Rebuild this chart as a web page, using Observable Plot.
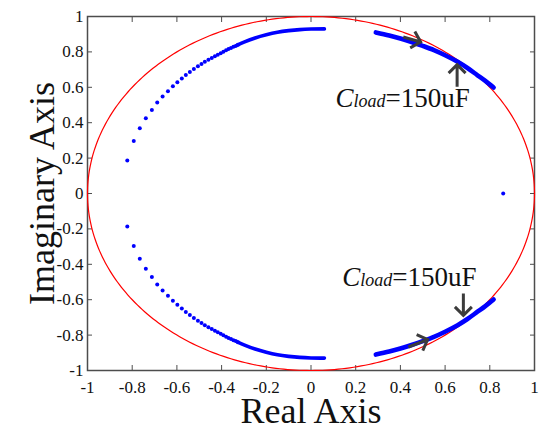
<!DOCTYPE html>
<html>
<head>
<meta charset="utf-8">
<script src="https://cdn.jsdelivr.net/npm/d3@7"></script>
<script src="https://cdn.jsdelivr.net/npm/@observablehq/plot@0.6"></script>
<style>
  html, body { margin: 0; padding: 0; background: #fff; }
  #chart { width: 550px; height: 442px; }
</style>
</head>
<body>
<div id="chart"></div>
<script>
// Tick values
const xTickValues = [-1, -0.8, -0.6, -0.4, -0.2, 0, 0.2, 0.4, 0.6, 0.8, 1];
const yTickValues = [-1, -0.8, -0.6, -0.4, -0.2, 0, 0.2, 0.4, 0.6, 0.8, 1];

// Upper-left pole locus: individual (sparse) poles
const sparseX = [-0.822, -0.793, -0.766, -0.739, -0.712, -0.688, -0.664, -0.640, -0.618, -0.598,
                 -0.578, -0.560, -0.542, -0.524, -0.506, -0.490, -0.475, -0.459, -0.444, -0.430,
                 -0.417, -0.404, -0.392, -0.380, -0.369, -0.358, -0.347, -0.337, -0.327];
const sparseY = [0.187, 0.296, 0.368, 0.425, 0.472, 0.514, 0.548, 0.578, 0.606, 0.629,
                 0.650, 0.670, 0.687, 0.704, 0.719, 0.732, 0.744, 0.755, 0.765, 0.775,
                 0.784, 0.793, 0.801, 0.809, 0.816, 0.822, 0.829, 0.834, 0.840];

// Upper-left dense part of the locus (poles merge into a band)
const denseLeftX = [-0.33, -0.30, -0.25, -0.20, -0.15, -0.10, -0.05, 0.00, 0.06];
const denseLeftY = [0.838, 0.855, 0.879, 0.897, 0.911, 0.920, 0.926, 0.929, 0.930];

// Upper-right dense locus
const rightX = [0.29, 0.35, 0.40, 0.45, 0.50, 0.55, 0.60, 0.656, 0.70, 0.745, 0.78, 0.817];
const rightY = [0.910, 0.893, 0.876, 0.856, 0.834, 0.810, 0.781, 0.744, 0.709, 0.668, 0.636, 0.599];

// Real pole
const realPoleX = [0.86];
const realPoleY = [0];

// Annotation arrows (tail x1,y1 -> tip x2,y2)
const arrowX1 = [0.656, 0.415, 0.684, 0.438];
const arrowY1 = [0.600, 0.881, -0.568, -0.870];
const arrowX2 = [0.656, 0.493, 0.684, 0.524];
const arrowY2 = [0.725, 0.853, -0.691, -0.828];

// Annotation labels (baseline position)
const labelX = [0.110, 0.140];
const labelY = [0.487, -0.521];

const pts = (xs, ys) => xs.map((x, i) => ({x, y: ys[i]}));
const sparse = pts(sparseX, sparseY);
const denseLeft = pts(denseLeftX, denseLeftY);
const right = pts(rightX, rightY);
const realPole = pts(realPoleX, realPoleY);
const arrows = arrowX1.map((x1, i) => ({x1, y1: arrowY1[i], x2: arrowX2[i], y2: arrowY2[i]}));
const labels = pts(labelX, labelY);

// unit circle (stability boundary)
const circle = d3.range(0, 361, 1).map(a => ({x: Math.cos(a * Math.PI / 180), y: Math.sin(a * Math.PI / 180)}));

const serif = "Liberation Serif, Times New Roman, serif";
const fmt = d => String(+d.toFixed(1));
const blue = "#0000ff";

// custom mark: arrows with chevron heads, positioned through Plot's scales
function arrowMark(index, scales) {
  const g = d3.create("svg:g")
    .attr("fill", "none")
    .attr("stroke", "#3c3c3c")
    .attr("stroke-width", 3)
    .attr("stroke-linejoin", "miter");
  const head = 12, half = 45 * Math.PI / 180;
  for (const a of arrows) {
    const x1 = scales.x(a.x1), y1 = scales.y(a.y1);
    const x2 = scales.x(a.x2), y2 = scales.y(a.y2);
    const ang = Math.atan2(y2 - y1, x2 - x1);
    const lx = x2 - head * Math.cos(ang - half), ly = y2 - head * Math.sin(ang - half);
    const rx = x2 - head * Math.cos(ang + half), ry = y2 - head * Math.sin(ang + half);
    g.append("path").attr("d", `M${x1},${y1}L${x2},${y2}M${lx},${ly}L${x2},${y2}L${rx},${ry}`);
  }
  return g.node();
}

const chart = Plot.plot({
  width: 550,
  height: 442,
  marginLeft: 87,
  marginRight: 16,
  marginTop: 16,
  marginBottom: 72,
  style: {fontFamily: serif, background: "#fff", color: "#111"},
  x: {domain: [-1, 1]},
  y: {domain: [-1, 1]},
  marks: [
    Plot.frame({stroke: "#4d4d4d", strokeWidth: 1.5}),
    // inward ticks on all four sides
    Plot.axisX({anchor: "bottom", ticks: xTickValues, tickSize: -5, text: null, label: null, stroke: "#4d4d4d"}),
    Plot.axisX({anchor: "top", ticks: xTickValues, tickSize: -5, text: null, label: null, stroke: "#4d4d4d"}),
    Plot.axisY({anchor: "left", ticks: yTickValues, tickSize: -5, text: null, label: null, stroke: "#4d4d4d"}),
    Plot.axisY({anchor: "right", ticks: yTickValues, tickSize: -5, text: null, label: null, stroke: "#4d4d4d"}),
    // tick labels
    Plot.axisX({anchor: "bottom", ticks: xTickValues, tickSize: 0, tickPadding: 10, tickFormat: fmt, label: null, fontSize: 17, fill: "#111"}),
    Plot.axisY({anchor: "left", ticks: yTickValues, tickSize: 0, tickPadding: 4, tickFormat: fmt, label: null, fontSize: 17, fill: "#111"}),
    // axis titles
    Plot.text(["Real Axis"], {frameAnchor: "bottom", textAnchor: "middle", lineAnchor: "middle", dy: 41, text: d => d, fontSize: 36, fill: "#111", fontFamily: serif}),
    Plot.text(["Imaginary Axis"], {frameAnchor: "left", textAnchor: "middle", lineAnchor: "middle", rotate: -90, dx: -45, text: d => d, fontSize: 36, fill: "#111", fontFamily: serif}),
    // unit circle
    Plot.line(circle, {x: "x", y: "y", stroke: "#ff0000", strokeWidth: 1.2}),
    // pole loci (upper and conjugate lower)
    Plot.dot(sparse, {x: "x", y: "y", r: 2, fill: blue}),
    Plot.dot(sparse, {x: "x", y: d => -d.y, r: 2, fill: blue}),
    Plot.line(denseLeft, {x: "x", y: "y", stroke: blue, strokeWidth: 3.6, strokeLinecap: "round", curve: "catmull-rom"}),
    Plot.line(denseLeft, {x: "x", y: d => -d.y, stroke: blue, strokeWidth: 3.6, strokeLinecap: "round", curve: "catmull-rom"}),
    Plot.line(right, {x: "x", y: "y", stroke: blue, strokeWidth: 4.6, strokeLinecap: "round", curve: "catmull-rom"}),
    Plot.line(right, {x: "x", y: d => -d.y, stroke: blue, strokeWidth: 4.6, strokeLinecap: "round", curve: "catmull-rom"}),
    Plot.dot(realPole, {x: "x", y: "y", r: 2, fill: blue}),
    // arrows
    arrowMark,
    // annotation labels: C (italic) + load (italic, smaller) + =150uF
    Plot.text(labels, {x: "x", y: "y", text: () => "C", textAnchor: "start", lineAnchor: "bottom", fontSize: 27, fontStyle: "italic", fill: "#111", fontFamily: serif}),
    Plot.text(labels, {x: "x", y: "y", text: () => "load", textAnchor: "start", lineAnchor: "bottom", dx: 18, fontSize: 18, fontStyle: "italic", fill: "#111", fontFamily: serif}),
    Plot.text(labels, {x: "x", y: "y", text: () => "=150uF", textAnchor: "start", lineAnchor: "bottom", dx: 50, fontSize: 27, fill: "#111", fontFamily: serif})
  ]
});
document.getElementById("chart").appendChild(chart);
</script>
</body>
</html>
